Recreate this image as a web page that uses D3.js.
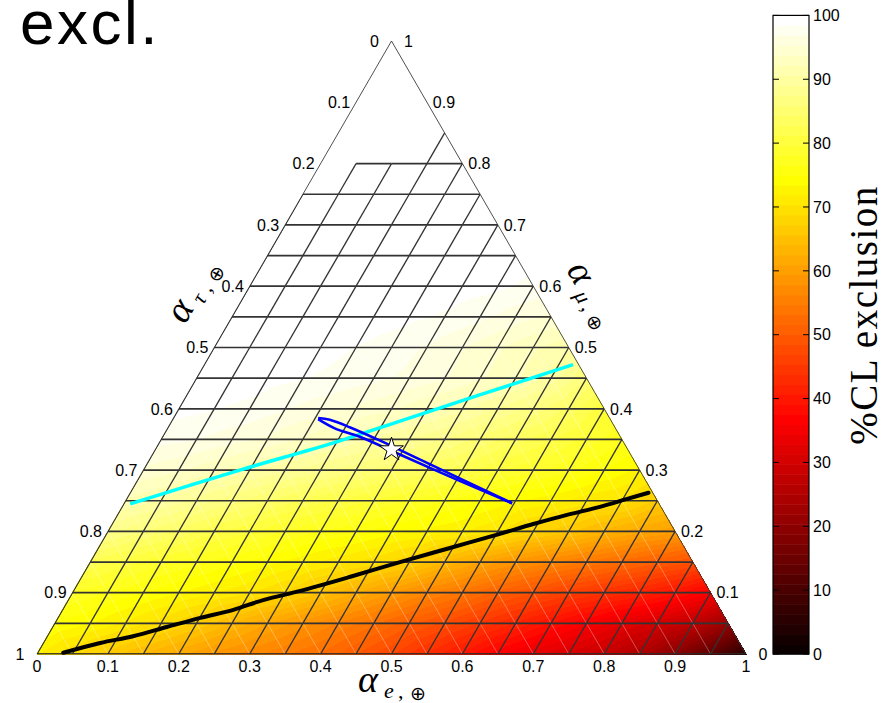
<!DOCTYPE html>
<html>
<head>
<meta charset="utf-8">
<script src="https://cdn.jsdelivr.net/npm/d3@7"></script>
<style>
body { margin: 0; background: #fff; }
svg { display: block; }
</style>
</head>
<body>
<script>
// ternary coordinates: e = alpha_e (bottom), mu = alpha_mu (height), tau = 1 - e - mu
var muLevels = [0, 0.05, 0.1, 0.15, 0.2, 0.25, 0.3, 0.35, 0.4, 0.45, 0.5, 0.55, 0.6, 0.65, 0.7, 0.75, 0.8, 0.85];
var eStep = 0.05;
// %CL exclusion, one row per mu level, e = 0, 0.05, ... (null = no data)
var clRows = [
  [72, 69, 66.5, 64, 61.5, 59, 57, 55, 53, 50, 47, 43.5, 40, 36.5, 33.5, 31, 28.5, 25, 19.5, 13, 5],
  [75, 73.5, 71.5, 69.5, 67, 64, 61, 58.5, 56, 53.5, 50.5, 48, 45, 42, 39, 36, 33, 30.5, 27.5, 22],
  [78, 76.5, 75, 73.5, 72, 70.5, 68.5, 65.5, 62.5, 59.5, 56.5, 54, 51, 48.5, 46, 44, 42, 39.5, 36],
  [82.5, 80.5, 78.5, 77, 75.5, 74, 72.5, 71, 69.5, 67.5, 64, 61, 58.5, 56.5, 54.5, 52.5, 50.5, 48.5],
  [88, 86, 84, 81.5, 80, 78, 76.5, 75.5, 74, 73, 72, 70.5, 68, 66, 63.5, 61.5, 60],
  [92, 90.5, 88.5, 86.5, 84.5, 82.5, 81, 79.5, 78, 76.5, 75, 73.5, 72.5, 71, 70, 67],
  [95, 94, 92.5, 91, 89.5, 88, 86.5, 85, 83.5, 82, 80, 78.5, 77, 75, 73],
  [97.5, 97, 96, 95, 93.5, 92, 90.5, 89, 87.5, 85.5, 83.5, 81.5, 79, 77],
  [99, 98.5, 98, 97, 96, 95, 94, 92.5, 91, 89, 87, 84, 80],
  [99.7, 99.5, 99, 98.5, 98, 97.3, 96.5, 95.5, 94, 92.5, 90, 86],
  [100, 99.9, 99.5, 99, 98.4, 97.7, 96.7, 95.4, 94, 92.5, 91],
  [100, 100, 99.9, 99.7, 99.3, 98.8, 98.2, 97.3, 96, 95],
  [100, 100, 100, 99.9, 99.8, 99.6, 99.2, 98.8, 98],
  [100, 100, 100, 100, 100, 99.9, 99.7, 99.3],
  [100, 100, 100, 100, 100, 100, 99.6],
  [100, 100, 100, 100, 100, 99.8],
  [null, 100, 100, 100, 100],
  [null, null, null, 100]
];
var axisTicks = [0, 0.1, 0.2, 0.3, 0.4, 0.5, 0.6, 0.7, 0.8, 0.9, 1];
var barTicks = [0, 10, 20, 30, 40, 50, 60, 70, 80, 90, 100];
// curves as [alpha_e, alpha_mu]
var cyanLine = [[0.009, 0.245], [0.136, 0.300], [0.245, 0.344], [0.322, 0.380], [0.414, 0.423], [0.520, 0.472]];
var blueUpper = [[0.204, 0.385], [0.222, 0.382], [0.256, 0.370], [0.310, 0.348], [0.382, 0.317], [0.547, 0.246]];
var blueLower = [[0.205, 0.383], [0.236, 0.368], [0.279, 0.354], [0.350, 0.325], [0.456, 0.282], [0.547, 0.246]];
var blackLine = [[0.036, 0.002], [0.080, 0.018], [0.121, 0.029], [0.161, 0.044], [0.201, 0.059], [0.241, 0.072],
  [0.275, 0.088], [0.320, 0.103], [0.379, 0.126], [0.437, 0.150], [0.496, 0.173], [0.555, 0.196], [0.594, 0.212],
  [0.634, 0.227], [0.674, 0.240], [0.706, 0.253], [0.731, 0.263]];
var starPoint = [1 / 3, 1 / 3];

var W = 886, H = 703;
var xs = d3.scaleLinear().domain([0, 1]).range([37, 746]);
var ys = d3.scaleLinear().domain([0, 1]).range([654, 41]);
function pos(e, mu) { return [xs(e + mu / 2), ys(mu)]; }

// MATLAB hot(64)
var hot = d3.range(1, 65).map(function (k) {
  return [Math.min(k / 24, 1), Math.max(0, Math.min((k - 24) / 24, 1)), Math.max(0, Math.min((k - 48) / 16, 1))];
});
var cIndex = d3.scaleQuantize().domain([0, 100]).range(d3.range(64));
function hotColor(i) { return d3.rgb(hot[i][0] * 255, hot[i][1] * 255, hot[i][2] * 255); }

var svg = d3.select("body").append("svg").attr("width", W).attr("height", H);

// build mesh nodes and triangles
var nodes = clRows.map(function (row, i) {
  return row.map(function (v, j) { return v === null ? null : { e: j * eStep, mu: muLevels[i], v: v, id: i + "_" + j }; });
});
var tris = [];
for (var i = 0; i < nodes.length - 1; i++) {
  var a = nodes[i], b = nodes[i + 1];
  for (var j = 0; j < a.length - 1; j++) {
    var up = [a[j], a[j + 1], b[j]];
    if (up.every(function (n) { return n; })) tris.push(up);
    var dn = [a[j + 1], b[j], b[j + 1]];
    if (dn.every(function (n) { return n; })) tris.push(dn);
  }
}

// shaded field on a canvas
var canvas = document.createElement("canvas");
canvas.width = W; canvas.height = H;
var ctx = canvas.getContext("2d");
var img = ctx.createImageData(W, H);
tris.forEach(function (t) {
  var p = t.map(function (n) { return pos(n.e, n.mu); });
  var x0 = Math.floor(d3.min(p, function (d) { return d[0]; })), x1 = Math.ceil(d3.max(p, function (d) { return d[0]; }));
  var y0 = Math.floor(d3.min(p, function (d) { return d[1]; })), y1 = Math.ceil(d3.max(p, function (d) { return d[1]; }));
  var det = (p[1][1] - p[2][1]) * (p[0][0] - p[2][0]) + (p[2][0] - p[1][0]) * (p[0][1] - p[2][1]);
  for (var y = y0; y <= y1; y++) {
    for (var x = x0; x <= x1; x++) {
      var cx = x + 0.5, cy = y + 0.5;
      var w0 = ((p[1][1] - p[2][1]) * (cx - p[2][0]) + (p[2][0] - p[1][0]) * (cy - p[2][1])) / det;
      var w1 = ((p[2][1] - p[0][1]) * (cx - p[2][0]) + (p[0][0] - p[2][0]) * (cy - p[2][1])) / det;
      var w2 = 1 - w0 - w1;
      if (w0 < -0.02 || w1 < -0.02 || w2 < -0.02) continue;
      var v = w0 * t[0].v + w1 * t[1].v + w2 * t[2].v;
      var c = hot[cIndex(v)];
      var k = (y * W + x) * 4;
      img.data[k] = c[0] * 255; img.data[k + 1] = c[1] * 255; img.data[k + 2] = c[2] * 255; img.data[k + 3] = 255;
    }
  }
});
ctx.putImageData(img, 0, 0);
svg.append("image").attr("x", 0).attr("y", 0).attr("width", W).attr("height", H)
  .attr("href", canvas.toDataURL());

// clip everything to the triangle
var corners = [pos(0, 0), pos(1, 0), pos(0, 1)];
svg.append("clipPath").attr("id", "tri").append("path").attr("d", "M" + corners.join("L") + "Z");

// mesh edges
var edges = {};
tris.forEach(function (t) {
  [[0, 1], [1, 2], [2, 0]].forEach(function (q) {
    var n1 = t[q[0]], n2 = t[q[1]];
    var key = [n1.id, n2.id].sort().join("|");
    var type = Math.abs(n1.mu - n2.mu) < 1e-9 ? "h" : (Math.abs(n1.e - n2.e) < 1e-9 ? "e" : "t");
    edges[key] = { a: n1, b: n2, type: type };
  });
});
var edgeList = Object.values(edges);
var mesh = svg.append("g").attr("clip-path", "url(#tri)");
mesh.selectAll("line.faint").data(edgeList.filter(function (d) { return d.type === "t"; }))
  .enter().append("line").attr("class", "faint")
  .attr("x1", function (d) { return pos(d.a.e, d.a.mu)[0]; }).attr("y1", function (d) { return pos(d.a.e, d.a.mu)[1]; })
  .attr("x2", function (d) { return pos(d.b.e, d.b.mu)[0]; }).attr("y2", function (d) { return pos(d.b.e, d.b.mu)[1]; })
  .attr("stroke", "#fff").attr("stroke-opacity", 0.45).attr("stroke-width", 0.7);
mesh.selectAll("line.dark").data(edgeList.filter(function (d) { return d.type !== "t"; }))
  .enter().append("line").attr("class", "dark")
  .attr("x1", function (d) { return pos(d.a.e, d.a.mu)[0]; }).attr("y1", function (d) { return pos(d.a.e, d.a.mu)[1]; })
  .attr("x2", function (d) { return pos(d.b.e, d.b.mu)[0]; }).attr("y2", function (d) { return pos(d.b.e, d.b.mu)[1]; })
  .attr("stroke", "#333").attr("stroke-width", function (d) { return d.type === "h" ? 1.7 : 1.3; });

// triangle frame
svg.append("path").attr("d", "M" + corners.join("L") + "Z")
  .attr("fill", "none").attr("stroke", "#222").attr("stroke-width", 0.8);

// curves
var tline = d3.line().x(function (d) { return pos(d[0], d[1])[0]; }).y(function (d) { return pos(d[0], d[1])[1]; }).curve(d3.curveCatmullRom);
svg.append("path").attr("d", tline(blackLine)).attr("fill", "none").attr("stroke", "#000").attr("stroke-width", 4).attr("stroke-linecap", "round");
svg.append("path").attr("d", tline(cyanLine)).attr("fill", "none").attr("stroke", "#00ffff").attr("stroke-width", 3.5);
svg.append("path").attr("d", tline(blueUpper)).attr("fill", "none").attr("stroke", "#0000ff").attr("stroke-width", 2.6);
svg.append("path").attr("d", tline(blueLower)).attr("fill", "none").attr("stroke", "#0000ff").attr("stroke-width", 2.6);
var sp = pos(starPoint[0], starPoint[1]);
svg.append("path").attr("d", d3.symbol().type(d3.symbolStar).size(175)())
  .attr("transform", "translate(" + sp[0] + "," + sp[1] + ")")
  .attr("fill", "#fff").attr("stroke", "#000").attr("stroke-width", 1);

// tick labels
var sans = "'Liberation Sans', Arial, Helvetica, sans-serif";
var labels = svg.append("g").style("font-family", sans).style("font-size", "16px").attr("fill", "#000");
function fmt(t) { return t === 0 ? "0" : (t === 1 ? "1" : d3.format(".1f")(t)); }
labels.selectAll("text.b").data(axisTicks).enter().append("text").attr("class", "b")
  .attr("x", function (t) { return pos(t, 0)[0]; }).attr("y", 672).attr("text-anchor", "middle").text(fmt);
labels.selectAll("text.l").data(axisTicks).enter().append("text").attr("class", "l")
  .attr("x", function (t) { return pos(0, 1 - t)[0] - 17; }).attr("y", function (t) { return pos(0, 1 - t)[1] + 5.7; })
  .attr("text-anchor", "middle").text(fmt);
labels.selectAll("text.r").data(axisTicks).enter().append("text").attr("class", "r")
  .attr("x", function (t) { return pos(1 - t, t)[0] + 17; }).attr("y", function (t) { return pos(1 - t, t)[1] + 5.7; })
  .attr("text-anchor", "middle").text(fmt);

// axis titles
function mathLabel(g, sub) {
  var serif = "'Liberation Serif', 'Times New Roman', serif";
  g.append("text").attr("x", 0).attr("y", 0).style("font-family", serif).style("font-style", "italic").style("font-size", "38px").text("α");
  g.append("text").attr("x", 26).attr("y", 6).style("font-family", serif).style("font-style", "italic").style("font-size", "22px").text(sub);
  g.append("text").attr("x", 40).attr("y", 6).style("font-family", serif).style("font-size", "22px").text(",");
  g.append("text").attr("x", 52).attr("y", 1).attr("dominant-baseline", "central")
    .style("font-family", "'DejaVu Sans', sans-serif").style("font-size", "19px").text("⊕");
}
mathLabel(svg.append("g").attr("transform", "translate(358,692)"), "e");
mathLabel(svg.append("g").attr("transform", "translate(185,325) rotate(-60)"), "τ");
mathLabel(svg.append("g").attr("transform", "translate(566,270) rotate(60)"), "μ");

// title
svg.append("text").attr("x", 20).attr("y", 44).style("font-family", sans).style("font-size", "62px")
  .style("letter-spacing", "2.5px").text("excl.");

// colorbar
var cbX = 773, cbW = 36;
var cy = d3.scaleLinear().domain([0, 100]).range([654, 15.4]);
var cb = svg.append("g");
cb.selectAll("rect").data(d3.range(64)).enter().append("rect")
  .attr("x", cbX).attr("width", cbW)
  .attr("y", function (i) { return cy((i + 1) * 100 / 64); })
  .attr("height", function (i) { return cy(i * 100 / 64) - cy((i + 1) * 100 / 64) + 0.5; })
  .attr("fill", function (i) { return hotColor(i); });
cb.append("rect").attr("x", cbX).attr("y", cy(100)).attr("width", cbW).attr("height", cy(0) - cy(100))
  .attr("fill", "none").attr("stroke", "#000").attr("stroke-width", 1.2);
var cticks = cb.selectAll("g.ct").data(barTicks).enter().append("g").attr("class", "ct");
cticks.append("line").attr("x1", cbX).attr("x2", cbX + 6).attr("y1", function (d) { return cy(d); }).attr("y2", function (d) { return cy(d); }).attr("stroke", "#000");
cticks.append("line").attr("x1", cbX + cbW - 6).attr("x2", cbX + cbW).attr("y1", function (d) { return cy(d); }).attr("y2", function (d) { return cy(d); }).attr("stroke", "#000");
cticks.append("text").attr("x", cbX + cbW + 4).attr("y", function (d) { return cy(d) + 5.7; })
  .style("font-family", sans).style("font-size", "16px").text(function (d) { return d; });
svg.append("text").attr("transform", "translate(877,315) rotate(-90)").attr("text-anchor", "middle")
  .style("font-family", "'Liberation Serif', 'Times New Roman', serif").style("font-size", "39px")
  .style("letter-spacing", "1.5px").text("%CL exclusion");
</script>
</body>
</html>
